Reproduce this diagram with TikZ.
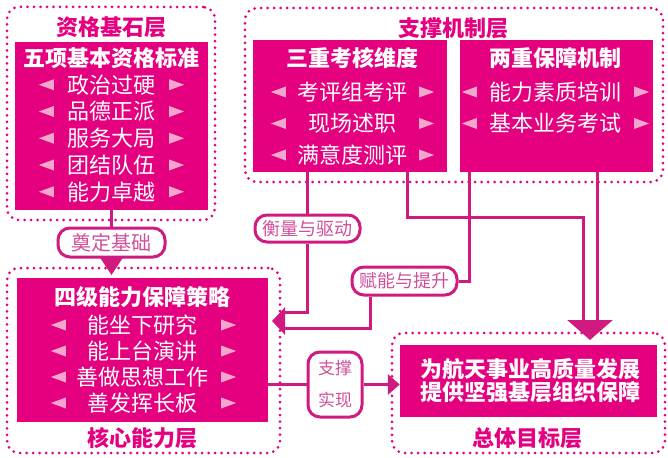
\documentclass[tikz,border=0pt]{standalone}
\usepackage{fontspec}
\setmainfont{Noto Sans CJK SC}
\usetikzlibrary{arrows.meta,shapes.geometric}

\definecolor{mag}{HTML}{E4007F}
\definecolor{wire}{HTML}{D01A80}
\definecolor{tripink}{HTML}{F4A6CC}
\definecolor{tagtext}{HTML}{D0509A}

\tikzset{
	grp/.style={draw=mag,line width=3pt,dash pattern=on 0pt off 6.5pt,line cap=round,rounded corners=12pt,inner sep=0pt},
	box/.style={fill=mag,inner sep=0pt},
	title/.style={text=mag,inner sep=0pt,font=\fontsize{22}{24}\selectfont\bfseries},
	head/.style={text=white,inner sep=0pt,font=\fontsize{22}{24}\selectfont\bfseries},
	item/.style={text=white,inner sep=0pt,font=\fontsize{22}{24}\selectfont},
	ltri/.style={isosceles triangle,isosceles triangle stretches,shape border rotate=180,fill=tripink,minimum width=11pt,minimum height=15pt,inner sep=0pt},
	rtri/.style={ltri,shape border rotate=0},
	tag/.style={draw=wire,line width=3pt,fill=white,rounded corners=12pt,text=tagtext,inner sep=0pt,font=\fontsize{18}{20}\selectfont},
	link/.style={draw=wire,line width=3pt},
}

\begin{document}
\begin{tikzpicture}[x=1pt,y=-1pt]
			\useasboundingbox (0,0) rectangle (668,457);
			% layer frames
			\draw (111,113.5) node [grp,minimum width=208pt,minimum height=213pt] (basisgrp) {};
			\draw (454,95) node [grp,minimum width=418pt,minimum height=174pt] (supgrp) {};
			\draw (143.5,360.5) node [grp,minimum width=273pt,minimum height=185pt] (coregrp) {};
			\draw (528.5,393) node [grp,minimum width=273pt,minimum height=120pt] (goalgrp) {};
			\draw (111,27) node [title] (basistitle) {资格基石层};
			\draw (453,28) node [title] (suptitle) {支撑机制层};
			\draw (142,438) node [title] (coretitle) {核心能力层};
			\draw (527,438) node [title] (goaltitle) {总体目标层};
			% boxes
			\draw (111.5,126) node [box,minimum width=193pt,minimum height=168pt] (basis) {};
			\draw (350,106) node [box,minimum width=194pt,minimum height=132pt] (exam) {};
			\draw (556.5,106) node [box,minimum width=193pt,minimum height=132pt] (guar) {};
			\draw (142.5,350) node [box,minimum width=251pt,minimum height=144pt] (core) {};
			\draw (528.5,381) node [box,minimum width=257pt,minimum height=72pt] (goal) {};
			\draw (111.5,58) node [head] (basishead) {五项基本资格标准};
			\draw (352,58) node [head] (examhead) {三重考核维度};
			\draw (555,58) node [head] (guarhead) {两重保障机制};
			\draw (142,297) node [head] (corehead) {四级能力保障策略};
			\draw (530,381) node [head,align=center,font=\fontsize{22}{23}\selectfont\bfseries] (goaltext) {为航天事业高质量发展\\提供坚强基层组织保障};
			% items
			\foreach \t [count=\i] in {政治过硬,品德正派,服务大局,团结队伍,能力卓越} {
				\draw (111.5,58+26.75*\i) node [item] (b\i) {\t};
				\draw (50,58+26.75*\i) node [ltri] (bl\i) {};
				\draw (173,58+26.75*\i) node [rtri] (br\i) {};
			}
			\foreach \t [count=\i] in {考评组考评,现场述职,满意度测评} {
				\draw (352,60.5+31.5*\i) node [item] (e\i) {\t};
				\draw (282,60.5+31.5*\i) node [ltri] (el\i) {};
				\draw (423,60.5+31.5*\i) node [rtri] (er\i) {};
			}
			\foreach \t [count=\i] in {能力素质培训,基本业务考试} {
				\draw (555,60.5+31.5*\i) node [item] (g\i) {\t};
				\draw (473,60.5+31.5*\i) node [ltri] (gl\i) {};
				\draw (638,60.5+31.5*\i) node [rtri] (gr\i) {};
			}
			\foreach \t [count=\i] in {能坐下研究,能上台演讲,善做思想工作,善发挥长板} {
				\draw (142,299+26*\i) node [item] (c\i) {\t};
				\draw (62,299+26*\i) node [ltri] (cl\i) {};
				\draw (225,299+26*\i) node [rtri] (cr\i) {};
			}
			% tags
			\draw (111.5,242.5) node [tag,minimum width=107pt,minimum height=29pt,font=\fontsize{20}{22}\selectfont] (found) {奠定基础};
			\draw (307.5,228.5) node [tag,minimum width=105pt,minimum height=27pt] (measure) {衡量与驱动};
			\draw (404.5,281) node [tag,minimum width=105pt,minimum height=28pt] (enable) {赋能与提升};
			\draw (335,384.5) node [tag,minimum width=54pt,minimum height=65pt,align=center,font=\fontsize{17}{32}\selectfont] (support) {支撑\\实现};
			% connectors
			\coordinate (inA) at (282,312);
			\coordinate (inB) at (282,328);
			\coordinate (bendC) at (469,281);
			\coordinate (dropB) at (370,295);
			\coordinate (bendD) at (407,217);
			\coordinate (goalA) at (583,320);
			\coordinate (goalB) at (597,320);
			\coordinate (coreBase) at (285,321);
			\coordinate (coreTip) at (272,321);
			\coordinate (goalBase) at (590,320);
			\coordinate (goalTip) at (590,340);
			\coordinate (foundTip) at (111.5,275);
			\draw [link] (basis.south) -- (found.north);
			\draw [link] (exam.south -| measure) -- (measure.north);
			\draw [link] (measure.south) |- (inA);
			\draw [link] (guar.south -| bendC) |- (enable.east);
			\draw [link] (enable.south -| dropB) |- (inB);
			\draw [link] (exam.south -| bendD) -- (bendD) -| (goalA);
			\draw [link] (guar.south -| goalB) -- (goalB);
			\draw [link] (support -| core.east) -- (support.west);
			\draw [link,-{Triangle[width=20pt,length=12pt]}] (support.east) -- (support -| goal.west);
			\draw [link,-{Triangle[width=23pt,length=18pt]}] (found.south) -- (foundTip);
			\draw [link,-{Triangle[width=27pt,length=13pt]}] (coreBase) -- (coreTip);
			\draw [link,-{Triangle[width=45pt,length=20pt]}] (goalBase) -- (goalTip);
		\end{tikzpicture}
\end{document}
